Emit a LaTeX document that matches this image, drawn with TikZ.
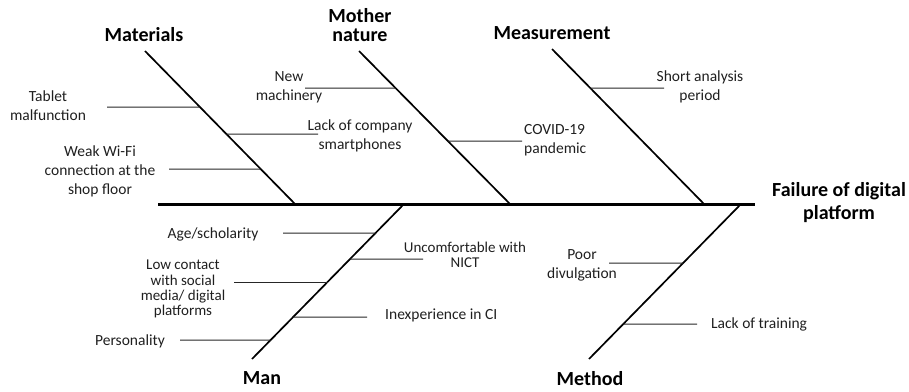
\documentclass[tikz,border=0pt]{standalone}
\usepackage{fontspec}
\setmainfont{Carlito}
\usetikzlibrary{calc}
\begin{document}
\begin{tikzpicture}[x=1pt,y=-1pt,
  txt/.style={inner sep=0pt,align=center,text=black!88,font=\fontsize{15.5}{19}\selectfont},
  tighttxt/.style={inner sep=0pt,align=center,text=black!88,font=\fontsize{15}{15.2}\selectfont},
  cat/.style={inner sep=0pt,align=center,text=black,font=\fontsize{20}{19.5}\selectfont\bfseries},
  spine/.style={line width=3pt,black},
  bone/.style={line width=1.7pt,black},
  twig/.style={line width=1pt,black!85}]
\useasboundingbox (0,0) rectangle (909,391);
% spine
\coordinate (sL) at (158,204.5);
\coordinate (sR) at (755,204.5);
\draw[spine] (sL) -- (sR);
% bones
\coordinate (maT) at (145,51);   \coordinate (maB) at (295,204);
\coordinate (mnT) at (359,51);   \coordinate (mnB) at (510,204);
\coordinate (meT) at (552,49);   \coordinate (meB) at (704,204);
\coordinate (mnT2) at (403,205); \coordinate (manB) at (252,359);
\coordinate (mtT) at (740,205);  \coordinate (mtB) at (589,359);
\draw[bone] (maT) -- (maB);
\draw[bone] (mnT) -- (mnB);
\draw[bone] (meT) -- (meB);
\draw[bone] (mnT2) -- (manB);
\draw[bone] (mtT) -- (mtB);
% category labels
\node[cat] (lMat) at (144,35) {Materials};
\node[cat] (lMN) at (360,25) {Mother\\nature};
\node[cat] (lMeas) at (552,33) {Measurement};
\node[cat] (lMan) at (262,378) {Man};
\node[cat] (lMeth) at (590,379) {Method};
\node[cat,font=\fontsize{20}{23}\selectfont\bfseries] (lFail) at (839,203) {Failure of digital\\platform};
% Materials causes
\node[txt] (c1) at (48,106) {Tablet\\malfunction};
\coordinate (c1a) at (107,107); \coordinate (c1b) at ($(maT)!{(107-51)/153}!(maB)$);
\draw[twig] (c1a) -- (c1b);
\node[txt] (c2) at (360,136) {Lack of company\\smartphones};
\coordinate (c2b) at (318,134); \coordinate (c2a) at ($(maT)!{(134-51)/153}!(maB)$);
\draw[twig] (c2a) -- (c2b);
\node[txt] (c3) at (100,171) {Weak Wi-Fi\\connection at the\\shop floor};
\coordinate (c3a) at (169,169); \coordinate (c3b) at ($(maT)!{(169-51)/153}!(maB)$);
\draw[twig] (c3a) -- (c3b);
% Mother nature causes
\node[txt] (c4) at (289,87) {New\\machinery};
\coordinate (c4a) at (305,88); \coordinate (c4b) at ($(mnT)!{(88-51)/153}!(mnB)$);
\draw[twig] (c4a) -- (c4b);
\node[txt,anchor=west,align=left] (c5) at (524,140) {COVID-19\\pandemic};
\coordinate (c5b) at (522,141); \coordinate (c5a) at ($(mnT)!{(141-51)/153}!(mnB)$);
\draw[twig] (c5a) -- (c5b);
% Measurement cause
\node[txt] (c6) at (700,87) {Short analysis\\period};
\coordinate (c6b) at (664,88); \coordinate (c6a) at ($(meT)!{(88-49)/155}!(meB)$);
\draw[twig] (c6a) -- (c6b);
% Man causes
\node[txt] (c7) at (213,234) {Age/scholarity};
\coordinate (c7a) at (283,233); \coordinate (c7b) at ($(mnT2)!{(233-205)/154}!(manB)$);
\draw[twig] (c7a) -- (c7b);
\node[tighttxt] (c8) at (465,255) {Uncomfortable with\\NICT};
\coordinate (c8b) at (423,259); \coordinate (c8a) at ($(mnT2)!{(259-205)/154}!(manB)$);
\draw[twig] (c8a) -- (c8b);
\node[tighttxt] (c9) at (183,289) {Low contact\\with social\\media/ digital\\platforms};
\coordinate (c9a) at (234,282); \coordinate (c9b) at ($(mnT2)!{(282-205)/154}!(manB)$);
\draw[twig] (c9a) -- (c9b);
\node[txt,anchor=west] (c10) at (385,315) {Inexperience in CI};
\coordinate (c10b) at (367,317); \coordinate (c10a) at ($(mnT2)!{(317-205)/154}!(manB)$);
\draw[twig] (c10a) -- (c10b);
\node[txt] (c11) at (130,341) {Personality};
\coordinate (c11a) at (180,340); \coordinate (c11b) at ($(mnT2)!{(340-205)/154}!(manB)$);
\draw[twig] (c11a) -- (c11b);
% Method causes
\node[txt] (c12) at (582,265) {Poor\\divulgation};
\coordinate (c12a) at (609,263); \coordinate (c12b) at ($(mtT)!{(263-205)/154}!(mtB)$);
\draw[twig] (c12a) -- (c12b);
\node[txt,anchor=west] (c13) at (711,324) {Lack of training};
\coordinate (c13b) at (697,324); \coordinate (c13a) at ($(mtT)!{(324-205)/154}!(mtB)$);
\draw[twig] (c13a) -- (c13b);
\end{tikzpicture}
\end{document}
